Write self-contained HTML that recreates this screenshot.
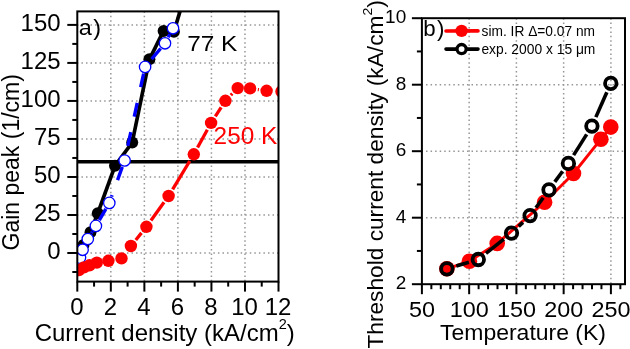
<!DOCTYPE html>
<html><head><meta charset="utf-8"><style>
html,body{margin:0;padding:0;background:#fff;width:630px;height:349px;overflow:hidden;}
svg{display:block;will-change:transform;}

text{font-family:"Liberation Sans",sans-serif;}
</style></head><body><div>
<svg width="630" height="349" viewBox="0 0 630 349">
<rect width="630" height="349" fill="#fff"/>
<defs><clipPath id="ca"><rect x="77.3" y="11.4" width="201.20" height="270.20"/></clipPath><clipPath id="cb"><rect x="421.9" y="18.2" width="203.1" height="266"/></clipPath></defs>
<g stroke="#969696" stroke-width="1.5" fill="none"><line x1="110.83" y1="11.4" x2="110.83" y2="281.6" stroke-dasharray="1.5 2.9"/><line x1="144.37" y1="11.4" x2="144.37" y2="281.6" stroke-dasharray="1.5 2.9"/><line x1="177.90" y1="11.4" x2="177.90" y2="281.6" stroke-dasharray="1.5 2.9"/><line x1="211.43" y1="11.4" x2="211.43" y2="281.6" stroke-dasharray="1.5 2.9"/><line x1="244.97" y1="11.4" x2="244.97" y2="281.6" stroke-dasharray="1.5 2.9"/><line x1="77.3" y1="253.00" x2="278.5" y2="253.00" stroke-dasharray="1.5 3.05" stroke-dashoffset="0.43"/><line x1="77.3" y1="214.98" x2="278.5" y2="214.98" stroke-dasharray="1.5 3.05" stroke-dashoffset="0.43"/><line x1="77.3" y1="176.97" x2="278.5" y2="176.97" stroke-dasharray="1.5 3.05" stroke-dashoffset="0.43"/><line x1="77.3" y1="138.95" x2="278.5" y2="138.95" stroke-dasharray="1.5 3.05" stroke-dashoffset="0.43"/><line x1="77.3" y1="100.93" x2="278.5" y2="100.93" stroke-dasharray="1.5 3.05" stroke-dashoffset="0.43"/><line x1="77.3" y1="62.92" x2="278.5" y2="62.92" stroke-dasharray="1.5 3.05" stroke-dashoffset="0.43"/><line x1="77.3" y1="24.90" x2="278.5" y2="24.90" stroke-dasharray="1.5 3.05" stroke-dashoffset="0.43"/></g>
<line x1="77.3" y1="161.7" x2="278.5" y2="161.7" stroke="#000" stroke-width="3.6"/>
<g clip-path="url(#ca)"><line x1="77.50" y1="254.00" x2="83.50" y2="245.00" stroke="#000" stroke-width="3.7" stroke-linecap="butt"/><line x1="83.50" y1="245.00" x2="90.50" y2="232.20" stroke="#000" stroke-width="3.7" stroke-linecap="butt"/><line x1="90.50" y1="232.20" x2="97.80" y2="213.20" stroke="#000" stroke-width="3.7" stroke-linecap="butt"/><line x1="97.80" y1="213.20" x2="115.00" y2="165.80" stroke="#000" stroke-width="3.7" stroke-linecap="butt"/><line x1="115.00" y1="165.80" x2="132.20" y2="142.50" stroke="#000" stroke-width="3.7" stroke-linecap="butt"/><line x1="132.20" y1="142.50" x2="149.40" y2="59.30" stroke="#000" stroke-width="3.7" stroke-linecap="butt"/><line x1="149.40" y1="59.30" x2="163.60" y2="30.90" stroke="#000" stroke-width="3.7" stroke-linecap="butt"/><line x1="163.60" y1="30.90" x2="173.90" y2="31.80" stroke="#000" stroke-width="3.7" stroke-linecap="butt"/><line x1="173.90" y1="31.80" x2="187.00" y2="-12.00" stroke="#000" stroke-width="3.7" stroke-linecap="butt"/><circle cx="77.5" cy="254" r="6.0" fill="#000"/><circle cx="83.5" cy="245" r="6.0" fill="#000"/><circle cx="90.5" cy="232.2" r="6.0" fill="#000"/><circle cx="97.8" cy="213.2" r="6.0" fill="#000"/><circle cx="115" cy="165.8" r="6.0" fill="#000"/><circle cx="132.2" cy="142.5" r="6.0" fill="#000"/><circle cx="149.4" cy="59.3" r="6.0" fill="#000"/><circle cx="163.6" cy="30.9" r="6.0" fill="#000"/><circle cx="173.9" cy="31.8" r="6.0" fill="#000"/><line x1="169.80" y1="34.30" x2="168.20" y2="37.30" stroke="#0000ff" stroke-width="3.4" stroke-dasharray="14 16"/><line x1="160.62" y1="48.50" x2="149.48" y2="61.70" stroke="#0000ff" stroke-width="3.4" stroke-dasharray="14 16"/><line x1="143.65" y1="73.54" x2="126.05" y2="153.86" stroke="#0000ff" stroke-width="3.4" stroke-dasharray="14 16"/><line x1="122.29" y1="166.90" x2="111.61" y2="196.50" stroke="#0000ff" stroke-width="3.4" stroke-dasharray="14 16"/><line x1="105.88" y1="208.78" x2="99.32" y2="220.02" stroke="#0000ff" stroke-width="3.4" stroke-dasharray="14 16"/><line x1="92.32" y1="231.68" x2="91.38" y2="233.22" stroke="#0000ff" stroke-width="3.4" stroke-dasharray="14 16"/><circle cx="80" cy="257.6" r="5.7" fill="#fff" stroke="#0000ff" stroke-width="1.3"/><circle cx="82.6" cy="249.8" r="5.7" fill="#fff" stroke="#0000ff" stroke-width="1.3"/><circle cx="87.8" cy="239.0" r="5.7" fill="#fff" stroke="#0000ff" stroke-width="1.3"/><circle cx="95.9" cy="225.9" r="5.7" fill="#fff" stroke="#0000ff" stroke-width="1.3"/><circle cx="109.3" cy="202.9" r="5.7" fill="#fff" stroke="#0000ff" stroke-width="1.3"/><circle cx="124.6" cy="160.5" r="5.7" fill="#fff" stroke="#0000ff" stroke-width="1.3"/><circle cx="145.1" cy="66.9" r="5.7" fill="#fff" stroke="#0000ff" stroke-width="1.3"/><circle cx="165" cy="43.3" r="5.7" fill="#fff" stroke="#0000ff" stroke-width="1.3"/><circle cx="173" cy="28.3" r="5.7" fill="#fff" stroke="#0000ff" stroke-width="1.3"/><line x1="135.80" y1="239.93" x2="141.50" y2="232.87" stroke="#ff0000" stroke-width="3.3" stroke-linecap="butt"/><line x1="150.96" y1="220.47" x2="164.04" y2="202.33" stroke="#ff0000" stroke-width="3.3" stroke-linecap="butt"/><line x1="172.63" y1="189.32" x2="189.77" y2="160.98" stroke="#ff0000" stroke-width="3.3" stroke-linecap="butt"/><line x1="197.56" y1="147.47" x2="207.34" y2="129.73" stroke="#ff0000" stroke-width="3.3" stroke-linecap="butt"/><line x1="215.34" y1="116.35" x2="221.16" y2="107.35" stroke="#ff0000" stroke-width="3.3" stroke-linecap="butt"/><line x1="230.83" y1="95.20" x2="232.27" y2="93.70" stroke="#ff0000" stroke-width="3.3" stroke-linecap="butt"/><line x1="257.82" y1="89.52" x2="258.88" y2="89.68" stroke="#ff0000" stroke-width="3.3" stroke-linecap="butt"/><circle cx="79" cy="270" r="6.2" fill="#ff0000"/><circle cx="84" cy="267.4" r="6.2" fill="#ff0000"/><circle cx="89.5" cy="265.3" r="6.2" fill="#ff0000"/><circle cx="96.8" cy="262.6" r="6.2" fill="#ff0000"/><circle cx="108.4" cy="260.8" r="6.2" fill="#ff0000"/><circle cx="121.5" cy="258.4" r="6.2" fill="#ff0000"/><circle cx="130.9" cy="246" r="6.2" fill="#ff0000"/><circle cx="146.4" cy="226.8" r="6.2" fill="#ff0000"/><circle cx="168.6" cy="196" r="6.2" fill="#ff0000"/><circle cx="193.8" cy="154.3" r="6.2" fill="#ff0000"/><circle cx="211.1" cy="122.9" r="6.2" fill="#ff0000"/><circle cx="225.4" cy="100.8" r="6.2" fill="#ff0000"/><circle cx="237.7" cy="88.1" r="6.2" fill="#ff0000"/><circle cx="250.1" cy="88.4" r="6.2" fill="#ff0000"/><circle cx="266.6" cy="90.8" r="6.2" fill="#ff0000"/><circle cx="281.5" cy="91.5" r="6.2" fill="#ff0000"/></g>
<rect x="77.3" y="11.4" width="201.20" height="270.20" fill="none" stroke="#000" stroke-width="2.0"/>
<g stroke="#000" stroke-width="2.0"><line x1="77.30" y1="281.6" x2="77.30" y2="291.6"/><line x1="94.07" y1="281.6" x2="94.07" y2="286.6"/><line x1="110.83" y1="281.6" x2="110.83" y2="291.6"/><line x1="127.60" y1="281.6" x2="127.60" y2="286.6"/><line x1="144.37" y1="281.6" x2="144.37" y2="291.6"/><line x1="161.13" y1="281.6" x2="161.13" y2="286.6"/><line x1="177.90" y1="281.6" x2="177.90" y2="291.6"/><line x1="194.67" y1="281.6" x2="194.67" y2="286.6"/><line x1="211.43" y1="281.6" x2="211.43" y2="291.6"/><line x1="228.20" y1="281.6" x2="228.20" y2="286.6"/><line x1="244.97" y1="281.6" x2="244.97" y2="291.6"/><line x1="261.73" y1="281.6" x2="261.73" y2="286.6"/><line x1="278.50" y1="281.6" x2="278.50" y2="291.6"/><line x1="72.3" y1="272.01" x2="77.3" y2="272.01"/><line x1="67.3" y1="253.00" x2="77.3" y2="253.00"/><line x1="72.3" y1="233.99" x2="77.3" y2="233.99"/><line x1="67.3" y1="214.98" x2="77.3" y2="214.98"/><line x1="72.3" y1="195.97" x2="77.3" y2="195.97"/><line x1="67.3" y1="176.97" x2="77.3" y2="176.97"/><line x1="72.3" y1="157.96" x2="77.3" y2="157.96"/><line x1="67.3" y1="138.95" x2="77.3" y2="138.95"/><line x1="72.3" y1="119.94" x2="77.3" y2="119.94"/><line x1="67.3" y1="100.93" x2="77.3" y2="100.93"/><line x1="72.3" y1="81.93" x2="77.3" y2="81.93"/><line x1="67.3" y1="62.92" x2="77.3" y2="62.92"/><line x1="72.3" y1="43.91" x2="77.3" y2="43.91"/><line x1="67.3" y1="24.90" x2="77.3" y2="24.90"/></g>
<text transform="translate(76.90,314.90) scale(1.0,0.99)" font-size="24.0" text-anchor="middle" fill="#000">0</text><text transform="translate(110.43,314.90) scale(1.0,0.99)" font-size="24.0" text-anchor="middle" fill="#000">2</text><text transform="translate(143.97,314.90) scale(1.0,0.99)" font-size="24.0" text-anchor="middle" fill="#000">4</text><text transform="translate(177.50,314.90) scale(1.0,0.99)" font-size="24.0" text-anchor="middle" fill="#000">6</text><text transform="translate(211.03,314.90) scale(1.0,0.99)" font-size="24.0" text-anchor="middle" fill="#000">8</text><text transform="translate(244.57,314.90) scale(1.0,0.99)" font-size="24.0" text-anchor="middle" fill="#000">10</text><text transform="translate(278.10,314.90) scale(1.0,0.99)" font-size="24.0" text-anchor="middle" fill="#000">12</text><text transform="translate(60.60,259.20) scale(1.0,0.98)" font-size="24.0" text-anchor="end" fill="#000">0</text><text transform="translate(60.60,221.18) scale(1.0,0.98)" font-size="24.0" text-anchor="end" fill="#000">25</text><text transform="translate(60.60,183.17) scale(1.0,0.98)" font-size="24.0" text-anchor="end" fill="#000">50</text><text transform="translate(60.60,145.15) scale(1.0,0.98)" font-size="24.0" text-anchor="end" fill="#000">75</text><text transform="translate(60.60,107.13) scale(1.0,0.98)" font-size="24.0" text-anchor="end" fill="#000">100</text><text transform="translate(60.60,69.12) scale(1.0,0.98)" font-size="24.0" text-anchor="end" fill="#000">125</text><text transform="translate(60.60,31.10) scale(1.0,0.98)" font-size="24.0" text-anchor="end" fill="#000">150</text>
<text transform="translate(78.80,35.00) scale(1.0,0.9)" font-size="23.5" text-anchor="start" fill="#000">a</text>
<text transform="translate(93.20,35.00) scale(1.0,0.9)" font-size="23.5" text-anchor="start" fill="#000">)</text>
<text transform="translate(187.20,50.80) scale(1.0,0.89)" font-size="24.4" text-anchor="start" fill="#000">77 K</text>
<text transform="translate(213.60,144.20) scale(1.0,0.96)" font-size="24.4" text-anchor="start" fill="#ff0000">250 K</text>
<text transform="translate(34.7,341.4) scale(1,0.98)" font-size="24">Current density (kA/cm<tspan font-size="14.5" dy="-12.6">2</tspan><tspan dy="12.6">)</tspan></text>
<text transform="translate(18.6,250.5) rotate(-90)" font-size="23">Gain peak (1/cm)</text>
<g stroke="#969696" stroke-width="1.5" fill="none"><line x1="469.15" y1="18.2" x2="469.15" y2="284.2" stroke-dasharray="1.5 2.9"/><line x1="516.40" y1="18.2" x2="516.40" y2="284.2" stroke-dasharray="1.5 2.9"/><line x1="563.65" y1="18.2" x2="563.65" y2="284.2" stroke-dasharray="1.5 2.9"/><line x1="610.90" y1="18.2" x2="610.90" y2="284.2" stroke-dasharray="1.5 2.9"/><line x1="421.9" y1="217.70" x2="625.0" y2="217.70" stroke-dasharray="1.5 3.05" stroke-dashoffset="0.43"/><line x1="421.9" y1="151.20" x2="625.0" y2="151.20" stroke-dasharray="1.5 3.05" stroke-dashoffset="0.43"/><line x1="421.9" y1="84.70" x2="625.0" y2="84.70" stroke-dasharray="1.5 3.05" stroke-dashoffset="0.43"/></g>
<g clip-path="url(#cb)"><line x1="446.90" y1="268.80" x2="469.40" y2="261.20" stroke="#ff0000" stroke-width="2.9" stroke-linecap="butt"/><line x1="469.40" y1="261.20" x2="497.20" y2="243.40" stroke="#ff0000" stroke-width="2.9" stroke-linecap="butt"/><line x1="497.20" y1="243.40" x2="544.60" y2="202.20" stroke="#ff0000" stroke-width="2.9" stroke-linecap="butt"/><line x1="544.60" y1="202.20" x2="573.50" y2="173.50" stroke="#ff0000" stroke-width="2.9" stroke-linecap="butt"/><line x1="573.50" y1="173.50" x2="600.90" y2="139.20" stroke="#ff0000" stroke-width="2.9" stroke-linecap="butt"/><line x1="600.90" y1="139.20" x2="610.80" y2="127.10" stroke="#ff0000" stroke-width="2.9" stroke-linecap="butt"/><circle cx="446.9" cy="268.8" r="7.8" fill="#ff0000"/><circle cx="469.4" cy="261.2" r="7.8" fill="#ff0000"/><circle cx="497.2" cy="243.4" r="7.8" fill="#ff0000"/><circle cx="544.6" cy="202.2" r="7.8" fill="#ff0000"/><circle cx="573.5" cy="173.5" r="7.8" fill="#ff0000"/><circle cx="600.9" cy="139.2" r="7.8" fill="#ff0000"/><circle cx="610.8" cy="127.1" r="7.8" fill="#ff0000"/><line x1="456.30" y1="266.02" x2="468.90" y2="262.28" stroke="#000" stroke-width="3.6" stroke-linecap="butt"/><line x1="485.97" y1="253.40" x2="503.83" y2="239.20" stroke="#000" stroke-width="3.6" stroke-linecap="butt"/><line x1="518.64" y1="226.38" x2="522.96" y2="222.32" stroke="#000" stroke-width="3.6" stroke-linecap="butt"/><line x1="535.89" y1="207.69" x2="543.21" y2="197.71" stroke="#000" stroke-width="3.6" stroke-linecap="butt"/><line x1="554.80" y1="181.90" x2="562.60" y2="171.30" stroke="#000" stroke-width="3.6" stroke-linecap="butt"/><line x1="573.62" y1="155.11" x2="586.68" y2="134.39" stroke="#000" stroke-width="3.6" stroke-linecap="butt"/><line x1="595.86" y1="117.14" x2="606.84" y2="92.26" stroke="#000" stroke-width="3.6" stroke-linecap="butt"/><circle cx="446.9" cy="268.8" r="5.75" fill="none" stroke="#000" stroke-width="3.8"/><circle cx="478.3" cy="259.5" r="5.75" fill="none" stroke="#000" stroke-width="3.8"/><circle cx="511.5" cy="233.1" r="5.75" fill="none" stroke="#000" stroke-width="3.8"/><circle cx="530.1" cy="215.6" r="5.75" fill="none" stroke="#000" stroke-width="3.8"/><circle cx="549.0" cy="189.8" r="5.75" fill="none" stroke="#000" stroke-width="3.8"/><circle cx="568.4" cy="163.4" r="5.75" fill="none" stroke="#000" stroke-width="3.8"/><circle cx="591.9" cy="126.1" r="5.75" fill="none" stroke="#000" stroke-width="3.8"/><circle cx="610.8" cy="83.3" r="5.75" fill="none" stroke="#000" stroke-width="3.8"/></g>
<rect x="421.9" y="18.2" width="203.10" height="266.00" fill="none" stroke="#000" stroke-width="2.0"/>
<g stroke="#000" stroke-width="2.0"><line x1="421.90" y1="284.2" x2="421.90" y2="294.2"/><line x1="431.35" y1="284.2" x2="431.35" y2="289.2"/><line x1="440.80" y1="284.2" x2="440.80" y2="289.2"/><line x1="450.25" y1="284.2" x2="450.25" y2="289.2"/><line x1="459.70" y1="284.2" x2="459.70" y2="289.2"/><line x1="469.15" y1="284.2" x2="469.15" y2="294.2"/><line x1="478.60" y1="284.2" x2="478.60" y2="289.2"/><line x1="488.05" y1="284.2" x2="488.05" y2="289.2"/><line x1="497.50" y1="284.2" x2="497.50" y2="289.2"/><line x1="506.95" y1="284.2" x2="506.95" y2="289.2"/><line x1="516.40" y1="284.2" x2="516.40" y2="294.2"/><line x1="525.85" y1="284.2" x2="525.85" y2="289.2"/><line x1="535.30" y1="284.2" x2="535.30" y2="289.2"/><line x1="544.75" y1="284.2" x2="544.75" y2="289.2"/><line x1="554.20" y1="284.2" x2="554.20" y2="289.2"/><line x1="563.65" y1="284.2" x2="563.65" y2="294.2"/><line x1="573.10" y1="284.2" x2="573.10" y2="289.2"/><line x1="582.55" y1="284.2" x2="582.55" y2="289.2"/><line x1="592.00" y1="284.2" x2="592.00" y2="289.2"/><line x1="601.45" y1="284.2" x2="601.45" y2="289.2"/><line x1="610.90" y1="284.2" x2="610.90" y2="294.2"/><line x1="620.35" y1="284.2" x2="620.35" y2="289.2"/><line x1="411.9" y1="284.20" x2="421.9" y2="284.20"/><line x1="416.9" y1="250.95" x2="421.9" y2="250.95"/><line x1="411.9" y1="217.70" x2="421.9" y2="217.70"/><line x1="416.9" y1="184.45" x2="421.9" y2="184.45"/><line x1="411.9" y1="151.20" x2="421.9" y2="151.20"/><line x1="416.9" y1="117.95" x2="421.9" y2="117.95"/><line x1="411.9" y1="84.70" x2="421.9" y2="84.70"/><line x1="416.9" y1="51.45" x2="421.9" y2="51.45"/><line x1="411.9" y1="18.20" x2="421.9" y2="18.20"/></g>
<text transform="translate(421.90,317.40) scale(1.0,0.96)" font-size="23.4" text-anchor="middle" fill="#000">50</text><text transform="translate(469.15,317.40) scale(1.0,0.96)" font-size="23.4" text-anchor="middle" fill="#000">100</text><text transform="translate(516.40,317.40) scale(1.0,0.96)" font-size="23.4" text-anchor="middle" fill="#000">150</text><text transform="translate(563.65,317.40) scale(1.0,0.96)" font-size="23.4" text-anchor="middle" fill="#000">200</text><text transform="translate(610.90,317.40) scale(1.0,0.96)" font-size="23.4" text-anchor="middle" fill="#000">250</text><text transform="translate(406.20,289.40) scale(1.0,0.99)" font-size="19" text-anchor="end" fill="#000">2</text><text transform="translate(406.20,222.90) scale(1.0,0.99)" font-size="19" text-anchor="end" fill="#000">4</text><text transform="translate(406.20,156.40) scale(1.0,0.99)" font-size="19" text-anchor="end" fill="#000">6</text><text transform="translate(406.20,89.90) scale(1.0,0.99)" font-size="19" text-anchor="end" fill="#000">8</text><text transform="translate(406.20,23.40) scale(1.0,0.99)" font-size="19" text-anchor="end" fill="#000">10</text>
<text transform="translate(440.00,340.20) scale(1.0,0.93)" font-size="23.0" text-anchor="start" fill="#000">Temperature (K)</text>
<text transform="translate(383.2,348.6) rotate(-90) scale(1,0.97)" font-size="22.7">Threshold current density (kA/cm<tspan font-size="14" dy="-12">2</tspan><tspan dy="12">)</tspan></text>
<text transform="translate(423.20,35.80) scale(1.0,0.97)" font-size="22.3" text-anchor="start" fill="#000">b</text>
<text transform="translate(436.90,35.80) scale(1.0,0.97)" font-size="22.3" text-anchor="start" fill="#000">)</text>
<line x1="446" y1="31.0" x2="478" y2="30.9" stroke="#ff0000" stroke-width="3.6" stroke-linecap="round"/>
<circle cx="461.6" cy="30.9" r="6.2" fill="#ff0000"/>
<line x1="446" y1="49.1" x2="478" y2="49.1" stroke="#000" stroke-width="3.6" stroke-linecap="round"/>
<circle cx="461.6" cy="49.1" r="4.6" fill="#fff" stroke="#000" stroke-width="3.3"/>
<text x="481.6" y="36.1" font-size="13.8" textLength="113.4" lengthAdjust="spacingAndGlyphs">sim. IR Δ=0.07 nm</text>
<text x="481.4" y="54.3" font-size="13.8" textLength="114.0" lengthAdjust="spacingAndGlyphs">exp. 2000 x 15 μm</text>
</svg></div></body></html>
